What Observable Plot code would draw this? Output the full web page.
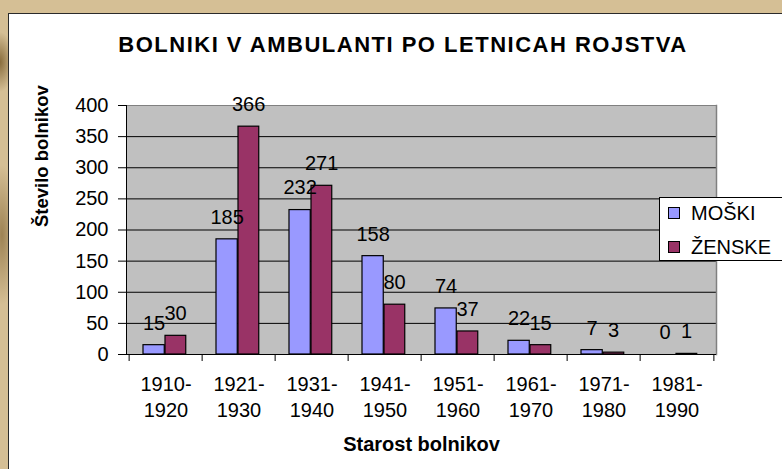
<!DOCTYPE html>
<html>
<head>
<meta charset="utf-8">
<script src="https://cdn.jsdelivr.net/npm/d3@7"></script>
<script src="https://cdn.jsdelivr.net/npm/@observablehq/plot@0.6"></script>
<style>
  html, body { margin: 0; padding: 0; }
  body {
    width: 782px; height: 469px; overflow: hidden; position: relative;
    background:
      radial-gradient(ellipse 14px 30px at 0px 62px, rgba(110,80,30,0.75), rgba(110,80,30,0) 100%),
      radial-gradient(ellipse 16px 70px at 2px 235px, rgba(120,90,40,0.6), rgba(120,90,40,0) 100%),
      #d5bf95;
    font-family: "Liberation Sans", Arial, sans-serif;
  }
  #panel {
    position: absolute; left: 8px; top: 13px; width: 800px; height: 500px;
    background: #ffffff; border: 1px solid #2a2a2a;
  }
  #title {
    position: absolute; top: 34px; left: 403px; transform: translateX(-50%);
    white-space: nowrap; font-weight: bold; font-size: 22px; line-height: 22px;
    letter-spacing: 1.5px; color: #000;
  }
  #chart { position: absolute; left: 0; top: 0; }
  #legend {
    position: absolute; left: 659px; top: 197px; width: 140px; height: 64px;
    background: #fff; border: 1px solid #000; box-sizing: border-box;
  }
  .item { position: absolute; left: 8px; height: 24px; display: flex; align-items: center; font-size: 20px; }
  .sw { width: 10px; height: 10px; border: 1px solid #000; margin-right: 11px; }
</style>
</head>
<body>
<div id="panel"></div>
<div id="chart"></div>
<div id="title">BOLNIKI V AMBULANTI PO LETNICAH ROJSTVA</div>
<div id="legend"></div>
<script>
const categories = ["1910-1920","1921-1930","1931-1940","1941-1950","1951-1960","1961-1970","1971-1980","1981-1990"];
const moski = [15, 185, 232, 158, 74, 22, 7, 0];
const zenske = [30, 366, 271, 80, 37, 15, 3, 1];
const series = ["MOŠKI", "ŽENSKE"];
const colors = ["#9999ff", "#993366"];
const yTicks = [0, 50, 100, 150, 200, 250, 300, 350, 400];
const yTitle = "Število bolnikov";
const xTitle = "Starost bolnikov";

const rowsM = categories.map((c, i) => ({cat: c, s: series[0], v: moski[i]}));
const rowsZ = categories.map((c, i) => ({cat: c, s: series[1], v: zenske[i]}));

const W = 782, H = 469;
const mL = 126, mR = 66, mT = 105, mB = 115;
const bw = (W - mL - mR) / categories.length;
const font = "Liberation Sans, Arial, sans-serif";

const chart = Plot.plot({
  width: W, height: H,
  marginLeft: mL, marginRight: mR, marginTop: mT, marginBottom: mB,
  style: {background: "transparent", fontFamily: font, fontSize: "20px", color: "#000"},
  x: {type: "band", domain: categories, padding: 0},
  y: {domain: [0, 400]},
  color: {domain: series, range: colors},
  marks: [
    Plot.frame({fill: "#c0c0c0", stroke: null}),
    Plot.ruleY(yTicks.filter(t => t > 0 && t < 400), {stroke: "#000", strokeWidth: 1}),
    Plot.frame({anchor: "top", stroke: "#808080"}),
    Plot.frame({anchor: "right", stroke: "#808080", strokeWidth: 1.5}),
    Plot.barY(rowsM, {x: "cat", y: "v", fill: "s", stroke: "#000", strokeWidth: 1.2, insetLeft: 14, insetRight: bw - 36}),
    Plot.barY(rowsZ, {x: "cat", y: "v", fill: "s", stroke: "#000", strokeWidth: 1.2, insetLeft: 36, insetRight: bw - 57.5}),
    Plot.frame({anchor: "left", stroke: "#000"}),
    Plot.ruleY([0], {stroke: "#000", strokeWidth: 1.2}),
    Plot.axisY({ticks: yTicks, tickSize: 8, tickPadding: 10, fontSize: 20, label: null, stroke: "#000"}),
    Plot.axisX({tickSize: 0, tickPadding: 18, fontSize: 20, lineHeight: 1.3, label: null,
      tickFormat: d => d.replace("-", "-\n")}),
    Plot.axisX({tickSize: 7, tickFormat: () => "", label: null, dx: -bw / 2}),
    Plot.axisX({ticks: [categories[categories.length - 1]], tickSize: 7, tickFormat: () => "", label: null, dx: bw / 2}),
    Plot.text(rowsM, {x: "cat", y: "v", text: "v", dx: 25 - bw / 2, dy: -22, fontSize: 20, lineAnchor: "middle", fill: "#000"}),
    Plot.text(rowsZ, {x: "cat", y: "v", text: "v", dx: 46.5 - bw / 2, dy: -22, fontSize: 20, lineAnchor: "middle", fill: "#000"}),
    Plot.text([yTitle], {frameAnchor: "left", dx: -84, dy: -3, rotate: -90, fontWeight: "bold", fontSize: 18.5, fill: "#000"}),
    Plot.text([xTitle], {frameAnchor: "bottom", dy: 90, fontWeight: "bold", fontSize: 20, lineAnchor: "middle", fill: "#000", letterSpacing: "0.6px"})
  ]
});
document.getElementById("chart").appendChild(chart);

const legend = document.getElementById("legend");
series.forEach((s, i) => {
  const it = document.createElement("div");
  it.className = "item";
  it.style.top = (3 + i * 34) + "px";
  const sw = document.createElement("div");
  sw.className = "sw";
  sw.style.background = colors[i];
  const t = document.createElement("span");
  t.textContent = s;
  it.appendChild(sw); it.appendChild(t);
  legend.appendChild(it);
});
</script>
</body>
</html>
